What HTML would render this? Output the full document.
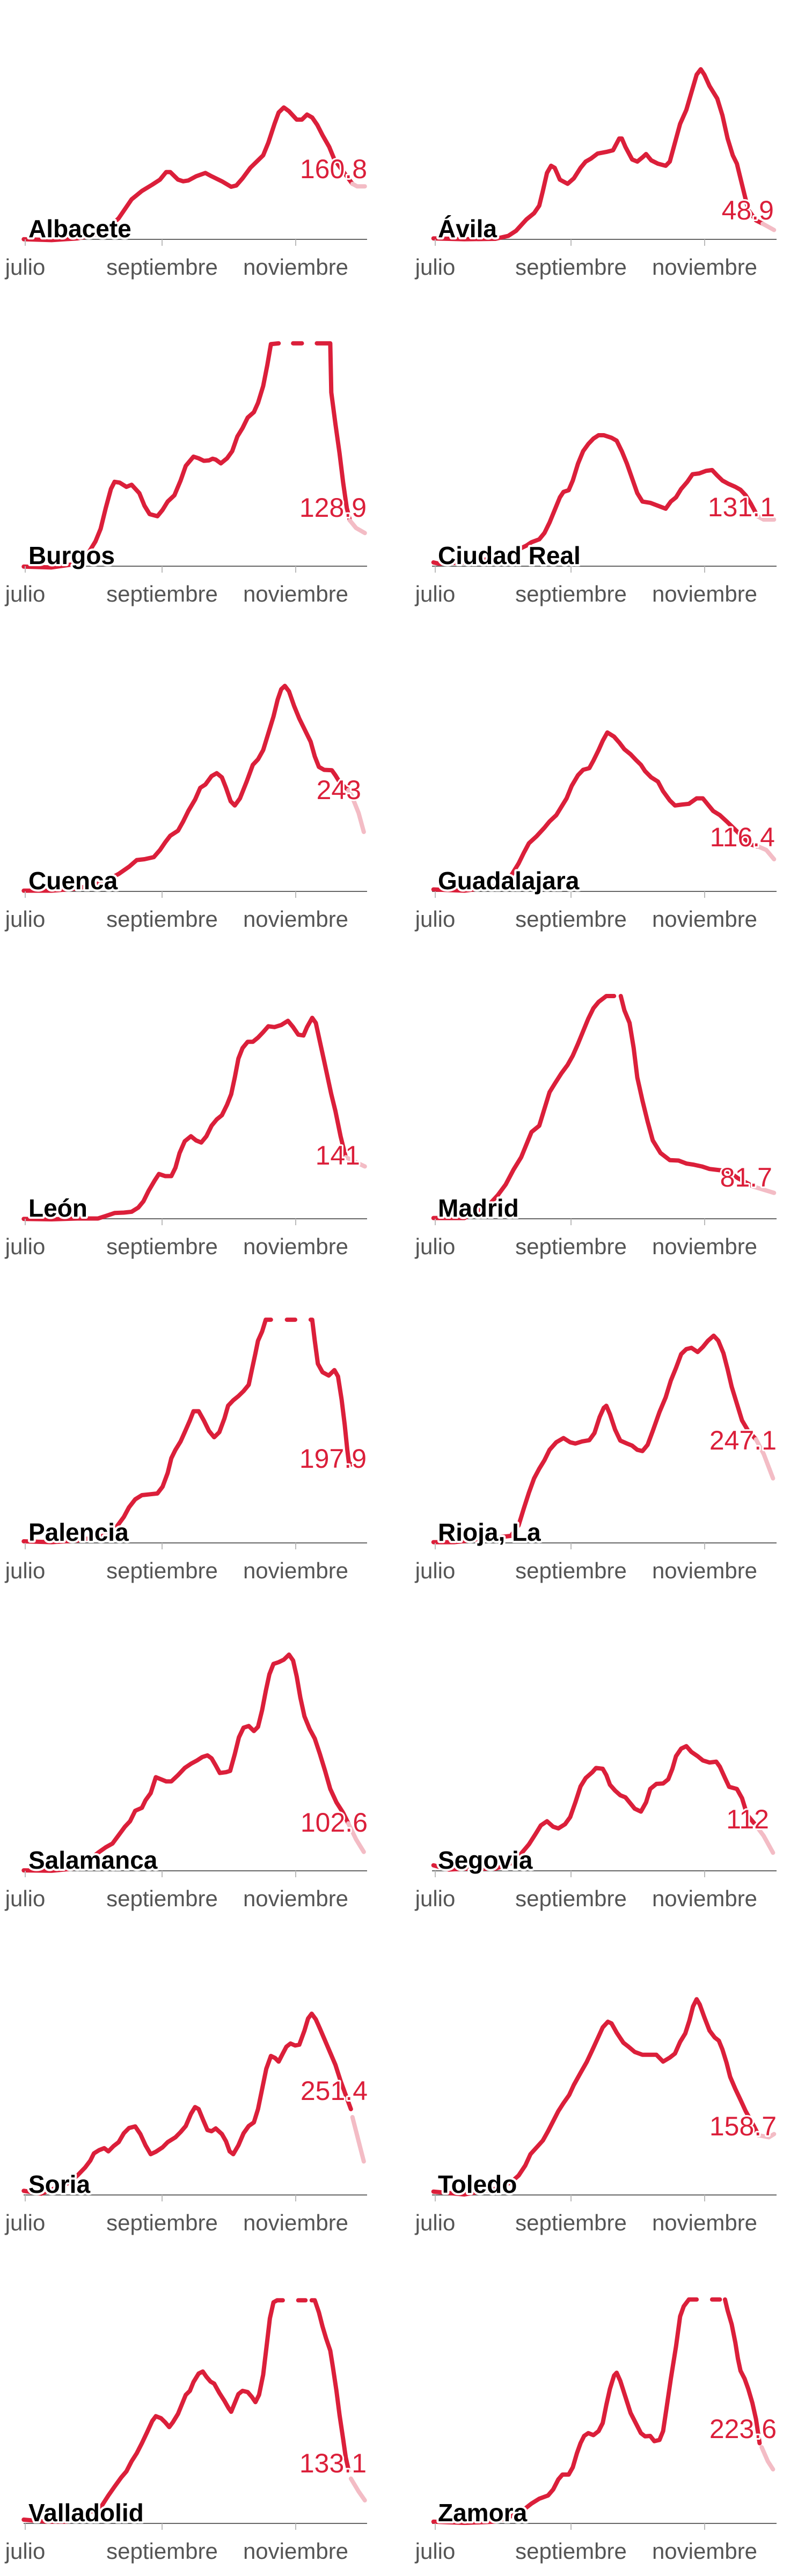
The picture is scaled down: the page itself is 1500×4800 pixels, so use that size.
<!DOCTYPE html>
<html><head><meta charset="utf-8"><style>
html,body{margin:0;padding:0;background:#fff}
svg{display:block}
.ln{fill:none;stroke:#db1f3a;stroke-width:8;stroke-linejoin:round;stroke-linecap:round}
.pk{fill:none;stroke:#f3bcc5;stroke-width:8;stroke-linejoin:round;stroke-linecap:round}
.tk{font-family:"Liberation Sans",sans-serif;font-size:42px;fill:#555;text-anchor:middle}
.nm{font-family:"Liberation Sans",sans-serif;font-size:46px;font-weight:bold;fill:#000;stroke:#fff;stroke-width:8;paint-order:stroke;stroke-linejoin:round}
.vl{font-family:"Liberation Sans",sans-serif;font-size:50px;fill:#db1f3a;text-anchor:end;stroke:#fff;stroke-width:6;paint-order:stroke;stroke-linejoin:round}
.ax{stroke:#666;stroke-width:2}
.tm{stroke:#bbb;stroke-width:2}
</style></head><body>
<svg width="1500" height="4800" viewBox="0 0 1500 4800" xmlns="http://www.w3.org/2000/svg">
<g id="axes">
<!-- axes rows: 446,1055,1661,2271,2875,3486,4090,4702 -->
<g class="ax">
<line x1="44" y1="446" x2="684" y2="446"/><line x1="805" y1="446" x2="1447" y2="446"/>
<line x1="44" y1="1055" x2="684" y2="1055"/><line x1="805" y1="1055" x2="1447" y2="1055"/>
<line x1="44" y1="1661" x2="684" y2="1661"/><line x1="805" y1="1661" x2="1447" y2="1661"/>
<line x1="44" y1="2271" x2="684" y2="2271"/><line x1="805" y1="2271" x2="1447" y2="2271"/>
<line x1="44" y1="2875" x2="684" y2="2875"/><line x1="805" y1="2875" x2="1447" y2="2875"/>
<line x1="44" y1="3486" x2="684" y2="3486"/><line x1="805" y1="3486" x2="1447" y2="3486"/>
<line x1="44" y1="4090" x2="684" y2="4090"/><line x1="805" y1="4090" x2="1447" y2="4090"/>
<line x1="44" y1="4702" x2="684" y2="4702"/><line x1="805" y1="4702" x2="1447" y2="4702"/>
</g>
</g>
<g id="ticks"></g>

<!-- Region 1 -->
<svg x="0" y="0" width="1500" height="1220" viewBox="0 0 1560 1560" preserveAspectRatio="none">
<polyline vector-effect="non-scaling-stroke" class="ln" points="46,570 100,572 150,568 200,555 230,520 255,475 275,455 295,440 310,428 322,410 330,410 345,428 355,432 365,430 380,420 398,412 410,420 430,432 448,445 458,442 470,425 485,400 500,382 510,370 520,340 532,295 540,268 550,256 560,265 575,285 585,285 595,273 605,280 615,298 625,322 638,350 648,380 660,400 672,420 683,438"/>
<polyline vector-effect="non-scaling-stroke" class="pk" points="683,438 692,444 707,444"/>
<polyline vector-effect="non-scaling-stroke" class="ln" points="840,568 900,570 960,569 985,562 1000,550 1020,523 1035,508 1045,490 1052,455 1060,412 1068,395 1075,400 1085,428 1100,438 1112,425 1125,400 1135,385 1145,378 1158,366 1175,362 1188,358 1200,330 1205,330 1212,350 1225,380 1235,385 1245,375 1252,367 1262,382 1275,390 1290,395 1298,385 1308,340 1318,295 1330,262 1340,220 1350,178 1358,165 1365,178 1375,205 1390,235 1400,275 1410,330 1420,370 1428,390 1440,450 1450,500 1465,525 1478,533"/>
<polyline vector-effect="non-scaling-stroke" class="pk" points="1478,533 1500,548"/>
<polyline vector-effect="non-scaling-stroke" class="ln" points="46,1350 100,1352 150,1343 170,1320 185,1290 195,1260 205,1210 215,1165 222,1148 232,1150 245,1160 255,1155 270,1175 280,1205 290,1225 305,1230 315,1215 325,1195 338,1180 350,1145 360,1110 375,1088 385,1092 395,1098 405,1097 412,1093 418,1095 428,1104 440,1092 450,1075 460,1040 470,1020 480,995 492,982 500,960 510,920 518,870 525,820 540,818"/>
<polyline vector-effect="non-scaling-stroke" class="ln" points="568,818 585,818"/>
<polyline vector-effect="non-scaling-stroke" class="ln" points="614,818 640,818 642,935 650,1010 658,1080 665,1150 672,1210 678,1240"/>
<polyline vector-effect="non-scaling-stroke" class="pk" points="678,1240 690,1258 707,1270"/>
<polyline vector-effect="non-scaling-stroke" class="ln" points="840,1340 850,1343 900,1340 960,1330 1000,1312 1020,1300 1030,1292 1045,1285 1055,1270 1065,1245 1075,1215 1085,1185 1092,1172 1102,1168 1110,1145 1120,1105 1130,1075 1140,1058 1150,1045 1160,1037 1170,1037 1185,1043 1195,1050 1205,1075 1215,1105 1225,1140 1235,1175 1245,1195 1260,1198 1275,1205 1290,1212 1300,1195 1310,1185 1320,1165 1332,1148 1342,1130 1355,1128 1368,1122 1380,1120 1390,1133 1400,1145 1412,1153 1425,1160 1435,1167 1445,1180 1455,1200 1468,1230"/>
<polyline vector-effect="non-scaling-stroke" class="pk" points="1468,1230 1480,1238 1500,1238"/>
</svg>

<!-- Region 2 -->
<svg x="0" y="1210" width="1500" height="1220" viewBox="0 0 1560 1560" preserveAspectRatio="none">
<polyline vector-effect="non-scaling-stroke" class="ln" points="46,575 100,575 150,570 200,555 230,535 250,518 265,502 280,500 298,495 310,478 320,460 330,444 345,432 355,410 365,385 378,358 388,330 398,322 410,302 420,295 430,305 438,330 447,362 455,372 465,355 478,315 490,275 500,262 510,240 520,200 530,160 538,120 545,95 552,87 560,100 570,135 580,165 592,195 602,220 610,255 618,280 628,287 643,288 650,300 660,320 675,335"/>
<polyline vector-effect="non-scaling-stroke" class="pk" points="675,335 682,350 695,390 705,435"/>
<polyline vector-effect="non-scaling-stroke" class="ln" points="840,572 900,575 960,565 990,540 1005,510 1015,485 1025,462 1040,445 1055,425 1065,410 1078,395 1088,375 1098,355 1108,325 1120,300 1130,287 1142,283 1150,265 1160,240 1168,218 1177,198 1190,208 1200,222 1210,238 1222,250 1232,263 1242,275 1250,290 1262,305 1275,315 1285,338 1298,360 1308,372 1320,370 1335,368 1350,355 1362,355 1372,370 1382,385 1395,395 1410,412 1425,430 1440,448 1455,465 1470,470"/>
<polyline vector-effect="non-scaling-stroke" class="pk" points="1470,470 1485,478 1500,500"/>
<polyline vector-effect="non-scaling-stroke" class="ln" points="46,1357 100,1358 150,1356 190,1356 205,1350 222,1343 240,1342 255,1340 268,1330 278,1315 288,1290 300,1265 308,1250 320,1255 332,1255 340,1235 348,1200 358,1172 370,1160 380,1170 390,1175 400,1160 410,1135 420,1120 430,1110 440,1085 448,1060 455,1020 462,975 470,950 480,935 490,935 500,925 510,912 520,898 532,900 545,895 558,885 568,900 578,918 588,920 595,900 605,878 612,890 620,935 628,980 635,1020 642,1060 650,1100 660,1160 670,1210"/>
<polyline vector-effect="non-scaling-stroke" class="pk" points="670,1210 690,1222 707,1232"/>
<polyline vector-effect="non-scaling-stroke" class="ln" points="840,1355 900,1355 950,1320 965,1300 980,1275 995,1240 1010,1210 1020,1180 1030,1150 1045,1135 1055,1095 1065,1055 1075,1035 1088,1010 1100,990 1110,968 1120,940 1130,910 1140,880 1150,855 1160,840 1175,826 1190,826"/>
<polyline vector-effect="non-scaling-stroke" class="ln" points="1203,826 1210,860 1220,890 1228,950 1235,1020 1245,1075 1255,1125 1265,1170 1280,1200 1298,1217 1315,1218 1330,1225 1345,1228 1360,1232 1375,1238 1395,1241 1410,1243 1430,1260 1460,1280"/>
<polyline vector-effect="non-scaling-stroke" class="pk" points="1460,1280 1500,1295"/>
</svg>

<!-- Region 3 -->
<svg x="0" y="2420" width="1500" height="1220" viewBox="0 0 1560 1560" preserveAspectRatio="none">
<polyline vector-effect="non-scaling-stroke" class="ln" points="46,578 100,580 150,576 200,565 225,545 240,520 250,497 262,478 275,468 290,466 305,464 315,448 325,415 332,380 340,360 350,340 358,318 368,290 375,268 385,268 395,290 405,315 415,330 425,318 435,285 442,255 452,242 462,232 472,220 482,205 488,170 495,130 500,100 508,78 515,50 525,50"/>
<polyline vector-effect="non-scaling-stroke" class="ln" points="556,50 572,50"/>
<polyline vector-effect="non-scaling-stroke" class="ln" points="602,50 605,50 610,100 616,155 625,175 637,183 648,170 655,185 662,240 668,300 673,360 676,390 680,395"/>
<polyline vector-effect="non-scaling-stroke" class="ln" points="840,580 880,580 990,565 1005,540 1015,500 1025,462 1035,428 1045,405 1055,385 1065,360 1078,342 1092,332 1105,342 1115,345 1128,340 1142,337 1152,320 1162,282 1170,260 1175,255 1182,275 1192,312 1202,338 1215,345 1225,350 1235,360 1245,363 1255,348 1265,315 1278,270 1290,235 1300,195 1310,165 1320,132 1330,120 1340,117 1352,127 1362,115 1372,100 1383,88 1392,100 1402,130 1410,168 1418,210 1428,250 1438,290 1450,315 1465,335"/>
<polyline vector-effect="non-scaling-stroke" class="pk" points="1465,335 1480,370 1498,428"/>
<polyline vector-effect="non-scaling-stroke" class="ln" points="46,1362 100,1363 140,1358 170,1340 190,1320 205,1307 218,1298 230,1278 242,1258 252,1245 262,1220 275,1213 282,1195 292,1178 302,1140 312,1145 322,1150 332,1150 345,1135 358,1118 370,1108 382,1100 392,1092 402,1088 410,1095 418,1112 426,1130 438,1128 446,1125 455,1085 463,1045 472,1022 482,1018 492,1030 500,1020 508,980 515,935 522,895 530,870 540,866 550,860 560,848 568,862 575,900 582,950 590,995 600,1025 610,1048 620,1085 630,1125 640,1168 652,1200 665,1225 675,1250"/>
<polyline vector-effect="non-scaling-stroke" class="pk" points="675,1250 690,1288 705,1318"/>
<polyline vector-effect="non-scaling-stroke" class="ln" points="840,1350 870,1360 900,1358 960,1358 990,1345 1010,1322 1025,1300 1038,1275 1048,1255 1060,1245 1072,1258 1082,1262 1095,1252 1105,1235 1115,1200 1125,1162 1135,1142 1148,1128 1155,1118 1168,1120 1175,1135 1182,1158 1192,1172 1202,1183 1212,1188 1220,1200 1230,1215 1242,1222 1252,1200 1260,1168 1272,1156 1285,1155 1295,1145 1303,1120 1310,1090 1320,1072 1330,1066 1340,1080 1352,1090 1362,1100 1375,1105 1388,1103 1395,1115 1405,1142 1413,1163 1428,1168 1438,1190 1448,1230 1465,1255"/>
<polyline vector-effect="non-scaling-stroke" class="pk" points="1465,1255 1480,1280 1498,1320"/>
</svg>

<!-- Region 4 -->
<svg x="0" y="3630" width="1500" height="1170" viewBox="0 0 1560 1560" preserveAspectRatio="none">
<polyline vector-effect="non-scaling-stroke" class="ln" points="46,603 80,610 100,600 130,585 150,565 165,545 175,528 182,510 192,502 202,497 210,505 220,492 230,482 240,460 250,447 262,443 272,462 282,490 292,512 302,506 315,495 325,482 340,470 350,457 360,442 370,412 378,395 385,400 393,425 402,452 410,455 418,448 430,462 438,480 445,505 452,512 462,490 472,460 482,442 492,433 500,400 508,350 516,300 525,268 533,273 540,282 548,262 555,245 563,237 572,242 580,240 590,205 597,175 604,163 612,177 620,200 630,230 640,260 650,290 660,330 670,365 680,400"/>
<polyline vector-effect="non-scaling-stroke" class="pk" points="683,420 693,470 705,530"/>
<polyline vector-effect="non-scaling-stroke" class="ln" points="840,605 900,612 960,598 990,582 1005,565 1018,540 1028,512 1040,495 1052,478 1062,455 1072,430 1082,405 1092,385 1103,365 1112,340 1125,310 1137,283 1148,253 1158,225 1168,197 1178,183 1185,187 1195,210 1208,235 1218,245 1230,258 1245,265 1258,265 1272,265 1285,282 1298,272 1308,262 1318,233 1328,212 1336,180 1343,145 1350,127 1356,140 1365,172 1375,205 1385,222 1393,230 1400,252 1408,285 1415,320 1425,350 1435,377 1445,405 1460,440 1470,465"/>
<polyline vector-effect="non-scaling-stroke" class="pk" points="1470,465 1490,470 1500,462"/>
<polyline vector-effect="non-scaling-stroke" class="ln" points="46,1420 90,1425 130,1425 195,1390 210,1360 222,1338 235,1315 245,1300 255,1275 265,1255 275,1230 285,1203 295,1175 302,1163 312,1168 320,1178 328,1190 335,1178 345,1157 352,1135 360,1110 368,1100 375,1078 385,1057 393,1052 400,1065 408,1077 415,1082 425,1105 435,1125 443,1143 448,1152 455,1130 462,1108 470,1100 480,1103 488,1115 495,1128 502,1110 510,1060 517,985 523,920 530,880 537,875 548,875"/>
<polyline vector-effect="non-scaling-stroke" class="ln" points="578,875 592,875"/>
<polyline vector-effect="non-scaling-stroke" class="ln" points="604,875 610,875 618,905 625,940 632,970 640,1000 645,1040 652,1100 658,1160 665,1220 670,1265 676,1300"/>
<polyline vector-effect="non-scaling-stroke" class="pk" points="680,1318 695,1350 707,1372"/>
<polyline vector-effect="non-scaling-stroke" class="ln" points="840,1425 900,1428 960,1425 1005,1405 1030,1380 1045,1368 1062,1360 1072,1345 1082,1320 1090,1308 1102,1308 1110,1290 1118,1255 1125,1230 1132,1212 1140,1205 1150,1210 1160,1200 1168,1180 1175,1135 1182,1095 1190,1062 1195,1055 1202,1075 1212,1115 1222,1155 1232,1180 1242,1205 1250,1213 1260,1212 1268,1225 1278,1222 1285,1200 1292,1140 1300,1070 1310,990 1318,915 1325,890 1335,873 1350,873"/>
<polyline vector-effect="non-scaling-stroke" class="ln" points="1380,873 1395,873"/>
<polyline vector-effect="non-scaling-stroke" class="ln" points="1405,873 1410,900 1418,935 1425,980 1430,1020 1435,1050 1443,1070 1450,1095 1458,1130 1465,1170 1472,1230"/>
<polyline vector-effect="non-scaling-stroke" class="pk" points="1476,1240 1488,1275 1498,1295"/>
</svg>

<!-- tick marks and labels -->
<g class="tm">
<line x1="47" y1="446" x2="47" y2="458"/><line x1="302" y1="446" x2="302" y2="458"/><line x1="551" y1="446" x2="551" y2="458"/>
<line x1="811" y1="446" x2="811" y2="458"/><line x1="1064" y1="446" x2="1064" y2="458"/><line x1="1313" y1="446" x2="1313" y2="458"/>
<line x1="47" y1="1055" x2="47" y2="1067"/><line x1="302" y1="1055" x2="302" y2="1067"/><line x1="551" y1="1055" x2="551" y2="1067"/>
<line x1="811" y1="1055" x2="811" y2="1067"/><line x1="1064" y1="1055" x2="1064" y2="1067"/><line x1="1313" y1="1055" x2="1313" y2="1067"/>
<line x1="47" y1="1661" x2="47" y2="1673"/><line x1="302" y1="1661" x2="302" y2="1673"/><line x1="551" y1="1661" x2="551" y2="1673"/>
<line x1="811" y1="1661" x2="811" y2="1673"/><line x1="1064" y1="1661" x2="1064" y2="1673"/><line x1="1313" y1="1661" x2="1313" y2="1673"/>
<line x1="47" y1="2271" x2="47" y2="2283"/><line x1="302" y1="2271" x2="302" y2="2283"/><line x1="551" y1="2271" x2="551" y2="2283"/>
<line x1="811" y1="2271" x2="811" y2="2283"/><line x1="1064" y1="2271" x2="1064" y2="2283"/><line x1="1313" y1="2271" x2="1313" y2="2283"/>
<line x1="47" y1="2875" x2="47" y2="2887"/><line x1="302" y1="2875" x2="302" y2="2887"/><line x1="551" y1="2875" x2="551" y2="2887"/>
<line x1="811" y1="2875" x2="811" y2="2887"/><line x1="1064" y1="2875" x2="1064" y2="2887"/><line x1="1313" y1="2875" x2="1313" y2="2887"/>
<line x1="47" y1="3486" x2="47" y2="3498"/><line x1="302" y1="3486" x2="302" y2="3498"/><line x1="551" y1="3486" x2="551" y2="3498"/>
<line x1="811" y1="3486" x2="811" y2="3498"/><line x1="1064" y1="3486" x2="1064" y2="3498"/><line x1="1313" y1="3486" x2="1313" y2="3498"/>
<line x1="47" y1="4090" x2="47" y2="4102"/><line x1="302" y1="4090" x2="302" y2="4102"/><line x1="551" y1="4090" x2="551" y2="4102"/>
<line x1="811" y1="4090" x2="811" y2="4102"/><line x1="1064" y1="4090" x2="1064" y2="4102"/><line x1="1313" y1="4090" x2="1313" y2="4102"/>
<line x1="47" y1="4702" x2="47" y2="4714"/><line x1="302" y1="4702" x2="302" y2="4714"/><line x1="551" y1="4702" x2="551" y2="4714"/>
<line x1="811" y1="4702" x2="811" y2="4714"/><line x1="1064" y1="4702" x2="1064" y2="4714"/><line x1="1313" y1="4702" x2="1313" y2="4714"/>
</g>
<g class="tk">
<text x="47" y="512">julio</text><text x="302" y="512">septiembre</text><text x="551" y="512">noviembre</text>
<text x="811" y="512">julio</text><text x="1064" y="512">septiembre</text><text x="1313" y="512">noviembre</text>
<text x="47" y="1121">julio</text><text x="302" y="1121">septiembre</text><text x="551" y="1121">noviembre</text>
<text x="811" y="1121">julio</text><text x="1064" y="1121">septiembre</text><text x="1313" y="1121">noviembre</text>
<text x="47" y="1727">julio</text><text x="302" y="1727">septiembre</text><text x="551" y="1727">noviembre</text>
<text x="811" y="1727">julio</text><text x="1064" y="1727">septiembre</text><text x="1313" y="1727">noviembre</text>
<text x="47" y="2337">julio</text><text x="302" y="2337">septiembre</text><text x="551" y="2337">noviembre</text>
<text x="811" y="2337">julio</text><text x="1064" y="2337">septiembre</text><text x="1313" y="2337">noviembre</text>
<text x="47" y="2941">julio</text><text x="302" y="2941">septiembre</text><text x="551" y="2941">noviembre</text>
<text x="811" y="2941">julio</text><text x="1064" y="2941">septiembre</text><text x="1313" y="2941">noviembre</text>
<text x="47" y="3552">julio</text><text x="302" y="3552">septiembre</text><text x="551" y="3552">noviembre</text>
<text x="811" y="3552">julio</text><text x="1064" y="3552">septiembre</text><text x="1313" y="3552">noviembre</text>
<text x="47" y="4156">julio</text><text x="302" y="4156">septiembre</text><text x="551" y="4156">noviembre</text>
<text x="811" y="4156">julio</text><text x="1064" y="4156">septiembre</text><text x="1313" y="4156">noviembre</text>
<text x="47" y="4768">julio</text><text x="302" y="4768">septiembre</text><text x="551" y="4768">noviembre</text>
<text x="811" y="4768">julio</text><text x="1064" y="4768">septiembre</text><text x="1313" y="4768">noviembre</text>
</g>
<g class="nm">
<text x="53" y="442">Albacete</text><text x="816" y="442">Ávila</text>
<text x="53" y="1051">Burgos</text><text x="816" y="1051">Ciudad Real</text>
<text x="53" y="1657">Cuenca</text><text x="816" y="1657">Guadalajara</text>
<text x="53" y="2267">León</text><text x="816" y="2267">Madrid</text>
<text x="53" y="2871">Palencia</text><text x="816" y="2871">Rioja, La</text>
<text x="53" y="3482">Salamanca</text><text x="816" y="3482">Segovia</text>
<text x="53" y="4086">Soria</text><text x="816" y="4086">Toledo</text>
<text x="53" y="4698">Valladolid</text><text x="816" y="4698">Zamora</text>
</g>
<g class="vl">
<text x="684" y="332">160.8</text><text x="1442" y="409">48.9</text>
<text x="683" y="963">128.9</text><text x="1444" y="962">131.1</text>
<text x="673" y="1489">243</text><text x="1444" y="1577">116.4</text>
<text x="671" y="2170">141</text><text x="1439" y="2211">81.7</text>
<text x="683" y="2735">197.9</text><text x="1447" y="2701">247.1</text>
<text x="685" y="3413">102.6</text><text x="1433" y="3407">112</text>
<text x="685" y="3913">251.4</text><text x="1447" y="3979">158.7</text>
<text x="683" y="4607">133.1</text><text x="1447" y="4543">223.6</text>
</g>
</svg>
</body></html>
